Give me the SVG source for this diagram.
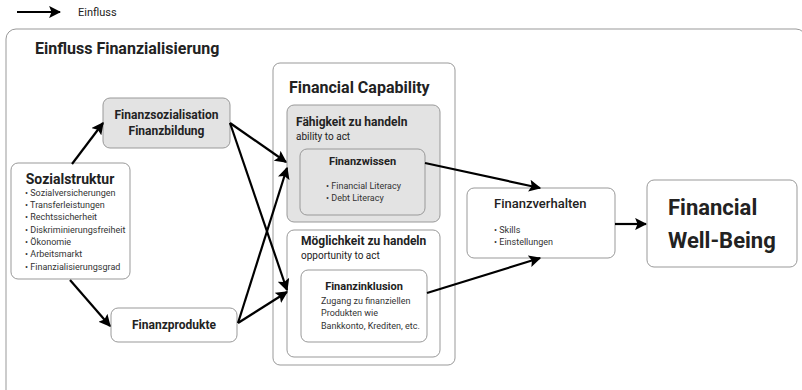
<svg xmlns="http://www.w3.org/2000/svg" width="802" height="390" viewBox="0 0 802 390">
<defs>
<marker id="ah" viewBox="0 0 10 10" refX="9" refY="5" markerWidth="5.5" markerHeight="5.5" orient="auto" markerUnits="strokeWidth">
<path d="M0,0 L10,5 L0,10 L2,5 z" fill="#000"/>
</marker>
<style>
text{font-family:Roboto,"Liberation Sans",Arial,sans-serif;fill:#222}
.box{fill:#fff;stroke:#999;stroke-width:1}
.gray{fill:#e3e3e3;stroke:#999;stroke-width:1}
.b{font-weight:bold}
.sm{font-size:9px;fill:#333}
.arr{stroke:#000;stroke-width:2.2;fill:none;marker-end:url(#ah)}
</style>
</defs>
<rect width="802" height="390" fill="#fff"/>
<g id="legend">
<line class="arr" x1="17" y1="12" x2="60" y2="12"/>
<text x="78" y="16" font-size="11" fill="#555">Einfluss</text>
</g>
<g id="frame">
<rect class="box" x="6" y="29" width="800" height="380" rx="10"/>
<text class="b" x="35" y="54" font-size="16">Einfluss Finanzialisierung</text>
</g>
<g id="sozialstruktur">
<rect class="box" x="11" y="163" width="119" height="116" rx="7"/>
<text class="b" x="70" y="184" font-size="14" text-anchor="middle">Sozialstruktur</text>
<text class="sm" x="25" y="196">• Sozialversicherungen</text>
<text class="sm" x="25" y="208">• Transferleistungen</text>
<text class="sm" x="25" y="220">• Rechtssicherheit</text>
<text class="sm" x="25" y="233">• Diskriminierungsfreiheit</text>
<text class="sm" x="25" y="245">• Ökonomie</text>
<text class="sm" x="25" y="257">• Arbeitsmarkt</text>
<text class="sm" x="25" y="270">• Finanzialisierungsgrad</text>
</g>
<g id="finanzsozialisation">
<rect class="gray" x="103" y="98" width="127" height="50" rx="7"/>
<text class="b" x="166.5" y="119" font-size="12" text-anchor="middle">Finanzsozialisation</text>
<text class="b" x="166.5" y="135" font-size="12" text-anchor="middle">Finanzbildung</text>
</g>
<g id="finanzprodukte">
<rect class="box" x="111" y="308" width="126" height="34" rx="7"/>
<text class="b" x="174" y="329" font-size="12" text-anchor="middle">Finanzprodukte</text>
</g>
<g id="financial-capability">
<rect class="box" x="273" y="63" width="182" height="302" rx="7"/>
<text class="b" x="289" y="93" font-size="16">Financial Capability</text>
</g>
<g id="faehigkeit">
<rect class="gray" x="287" y="105" width="153" height="117" rx="7"/>
<text class="b" x="296" y="126" font-size="12">Fähigkeit zu handeln</text>
<text x="296" y="140" font-size="10" fill="#444">ability to act</text>
</g>
<g id="finanzwissen">
<rect class="gray" x="300" y="149" width="125" height="66" rx="7"/>
<text class="b" x="362.5" y="165" font-size="11" text-anchor="middle">Finanzwissen</text>
<text class="sm" x="326" y="189">• Financial Literacy</text>
<text class="sm" x="326" y="201">• Debt Literacy</text>
</g>
<g id="moeglichkeit">
<rect class="box" x="287" y="230" width="153" height="127" rx="7"/>
<text class="b" x="301" y="245" font-size="12">Möglichkeit zu handeln</text>
<text x="301" y="259" font-size="10" fill="#444">opportunity to act</text>
</g>
<g id="finanzinklusion">
<rect class="box" x="301" y="270" width="126" height="72" rx="7"/>
<text class="b" x="364" y="290" font-size="11" text-anchor="middle">Finanzinklusion</text>
<text class="sm" x="321" y="304">Zugang zu finanziellen</text>
<text class="sm" x="321" y="316">Produkten wie</text>
<text class="sm" x="321" y="329">Bankkonto, Krediten, etc.</text>
</g>
<g id="finanzverhalten">
<rect class="box" x="467" y="188" width="148" height="70" rx="7"/>
<text x="494" y="208" font-size="13" fill="#222" font-weight="500">Finanzverhalten</text>
<text class="sm" x="494" y="233">• Skills</text>
<text class="sm" x="494" y="245">• Einstellungen</text>
</g>
<g id="well-being">
<rect class="box" x="647" y="180" width="150" height="87" rx="7"/>
<text class="b" x="668" y="215" font-size="22" fill="#111">Financial</text>
<text class="b" x="668" y="248" font-size="22" fill="#111">Well-Being</text>
</g>
<g id="connectors">
<line class="arr" x1="72" y1="164" x2="103" y2="123"/>
<line class="arr" x1="70" y1="280" x2="110" y2="326"/>
<line class="arr" x1="230" y1="123" x2="286" y2="162"/>
<line class="arr" x1="230" y1="123" x2="287" y2="290"/>
<line class="arr" x1="238" y1="323" x2="287" y2="168"/>
<line class="arr" x1="238" y1="323" x2="287" y2="292"/>
<line class="arr" x1="425" y1="163" x2="540" y2="188"/>
<line class="arr" x1="427" y1="293" x2="540" y2="258"/>
<line class="arr" x1="615" y1="224" x2="646" y2="224"/>
</g>
</svg>
